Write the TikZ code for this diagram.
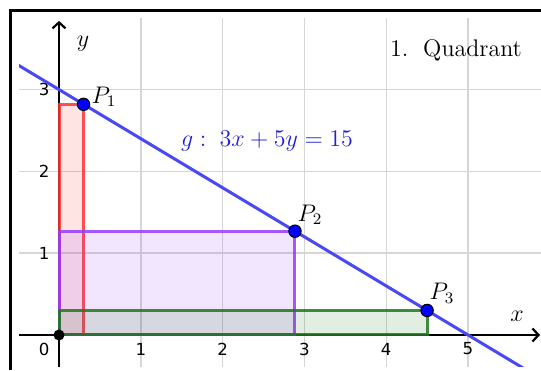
\documentclass[tikz,border=0pt]{standalone}
\usepackage{fontspec}
\newfontfamily\ticksfont{DejaVu Sans}
\usetikzlibrary{arrows.meta}
\definecolor{gline}{RGB}{72,72,245}
\definecolor{gtext}{RGB}{30,30,220}
\definecolor{gridgray}{RGB}{214,214,214}
\definecolor{rectred}{RGB}{255,50,50}
\definecolor{rectpurple}{RGB}{150,60,250}
\definecolor{rectgreen}{RGB}{30,120,30}
\tikzset{
  gridline/.style={draw=gridgray, line width=0.7pt},
  axisline/.style={draw=black, line width=1.25pt, -{Straight Barb[length=3pt,width=6.5pt,line width=1.1pt]}},
  ticklab/.style={font=\ticksfont\fontsize{8.3}{9}\selectfont, inner sep=0pt},
  rectbox/.style={line width=1.5pt, draw opacity=0.85, fill opacity=0.13},
  ptdot/.style={circle, fill=blue, draw=black, line width=0.5pt, minimum size=6.2pt, inner sep=0pt},
  mathlab/.style={inner sep=0pt},
}
\begin{document}
\begin{tikzpicture}[x=40.9pt,y=40.9pt,font=\fontsize{12}{14}\selectfont]
\useasboundingbox (-0.7213,-0.4279) rectangle (5.8924,4.0954);
% grid
\begin{scope}
\clip (-0.489,-0.391) rectangle (5.8924,3.875);
\foreach \i in {1,...,5} \draw[gridline] (\i,-0.391) -- (\i,3.875);
\foreach \j in {1,2,3} \draw[gridline] (-0.489,\j) -- (5.8924,\j);
\end{scope}
% frame
\draw[line width=1.6pt] (-0.5929,-0.4279) -- (-0.5929,3.967) -- (5.8924,3.967);
% axes
\coordinate (xl) at (-0.489,0);
\coordinate (xr) at (5.88,0);
\coordinate (yb) at (0,-0.391);
\coordinate (yt) at (0,3.84);
\draw[axisline] (xl) -- (xr);
\draw[axisline] (yb) -- (yt);
% tick labels
\node[ticklab] (t0) at (-0.183,-0.171) {0};
\foreach \i in {1,...,5} \node[ticklab] (tx\i) at (\i,-0.171) {\i};
\foreach \j in {1,2,3} \node[ticklab] (ty\j) at (-0.183,\j) {\j};
% rectangles
\draw[rectbox, draw=rectred, fill=rectred] (0,0) rectangle (0.3,2.82);
\draw[rectbox, draw=rectpurple, fill=rectpurple] (0,0) rectangle (2.885,1.26);
\draw[rectbox, draw=rectgreen, fill=rectgreen] (0,0) rectangle (4.5,0.3);
% line g
\begin{scope}
\clip (-0.489,-0.391) rectangle (5.8924,3.875);
\draw[gline, line width=1.5pt] (-0.6,3.36) -- (5.8,-0.48);
\end{scope}
% points
\node[circle, fill=black, minimum size=5.5pt, inner sep=0pt] (O) at (0,0) {};
\node[ptdot] (P1) at (0.3,2.82) {};
\node[ptdot] (P2) at (2.885,1.269) {};
\node[ptdot] (P3) at (4.5,0.3) {};
% labels
\node[mathlab] (lP1) at (0.55,2.91) {$P_1$};
\node[mathlab] (lP2) at (3.068,1.467) {$P_2$};
\node[mathlab] (lP3) at (4.682,0.513) {$P_3$};
\node[mathlab] (ly) at (0.293,3.557) {$y$};
\node[mathlab] (lx) at (5.599,0.232) {$x$};
\node[mathlab, text=gtext] (lg) at (2.543,2.372) {$g:\; 3x+5y=15$};
\node[mathlab] (quad) at (4.853,3.484) {1.\hspace{0.62em}Quadrant};
\end{tikzpicture}
\end{document}
